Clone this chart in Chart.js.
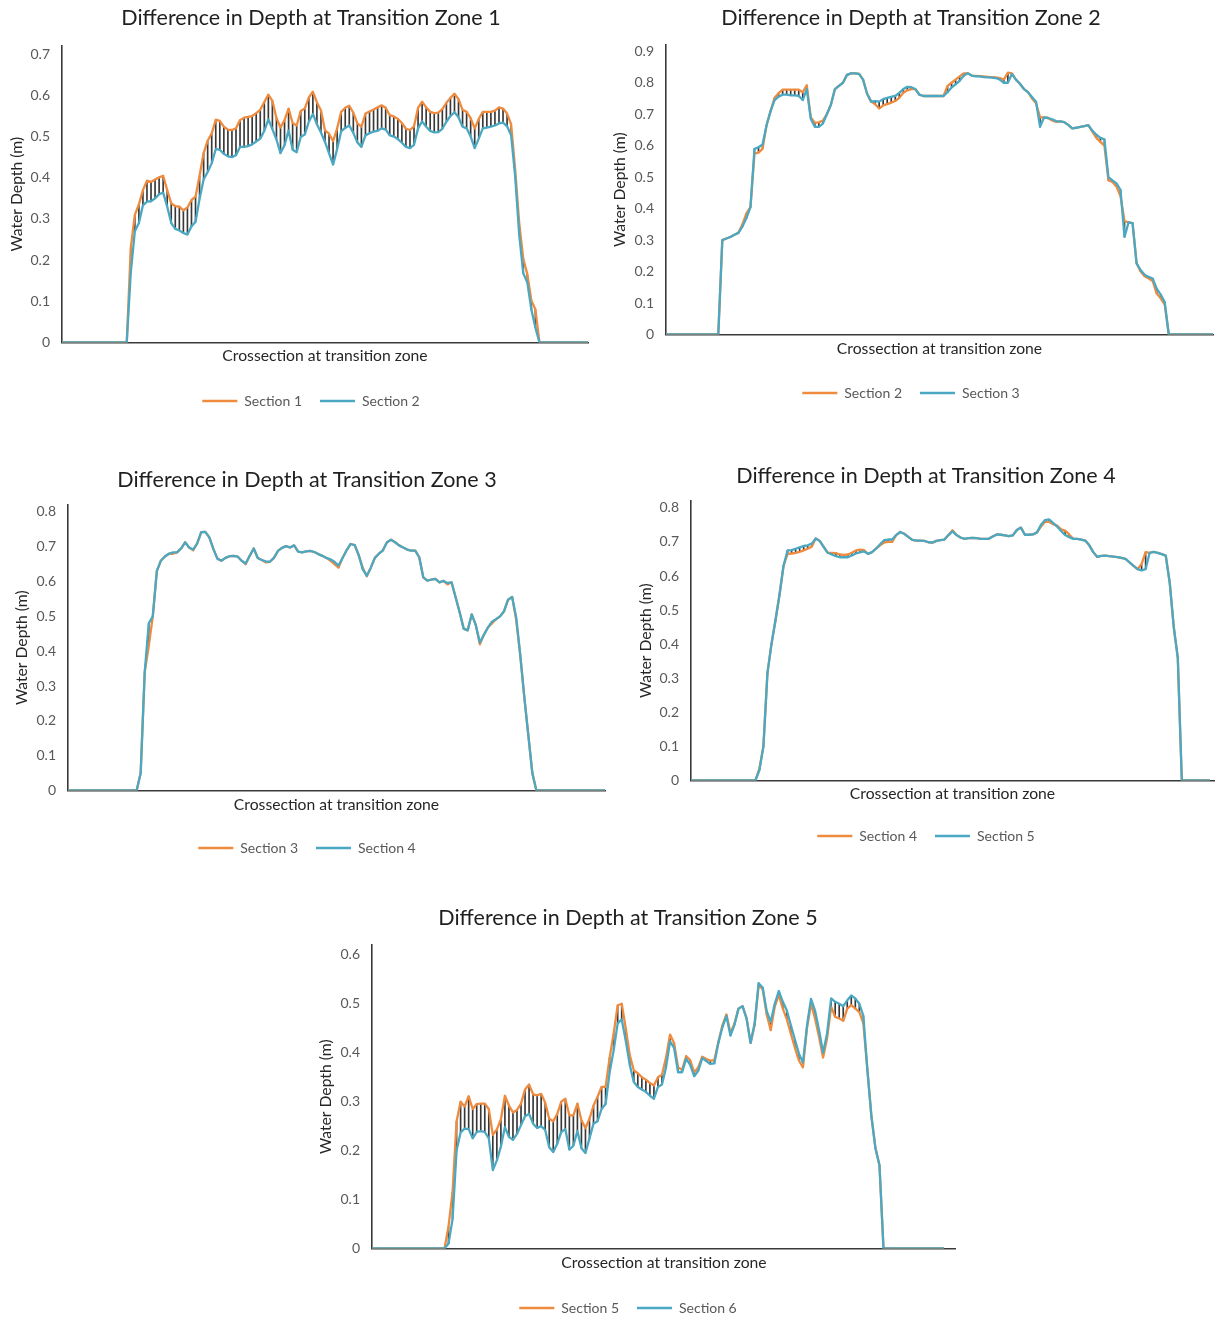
<!DOCTYPE html>
<html>
<head>
<meta charset="utf-8">
<script src="https://cdn.jsdelivr.net/npm/chart.js@4.4.1/dist/chart.umd.min.js"></script>
<style>
  html, body { margin: 0; padding: 0; background: #ffffff; }
  body { position: relative; width: 1226px; height: 1317px; overflow: hidden; }
  canvas { position: absolute; }
</style>
</head>
<body>
<script>
// ---------------- DATA ----------------
const chartTitles = [
  'Difference in Depth at Transition Zone 1',
  'Difference in Depth at Transition Zone 2',
  'Difference in Depth at Transition Zone 3',
  'Difference in Depth at Transition Zone 4',
  'Difference in Depth at Transition Zone 5'
];
const sectionNames = ['Section 1', 'Section 2', 'Section 3', 'Section 4', 'Section 5', 'Section 6'];
const yAxisTitle = 'Water Depth (m)';
const xAxisTitle = 'Crossection at transition zone';
const yAxisMax = [0.72, 0.92, 0.82, 0.82, 0.62];
const yTickStep = 0.1;

// Zone 1
const zone1Section1 = [0,0,0,0,0,0,0,0,0,0,0,0,0,0,0,0,0,
  0.23,0.31,0.335,0.37,0.393,0.39,0.396,0.401,0.405,0.37,0.338,0.331,0.33,0.321,0.328,0.346,0.354,0.405,0.46,0.49,
  0.508,0.541,0.538,0.524,0.517,0.516,0.52,0.54,0.546,0.548,0.55,0.557,0.565,0.584,0.602,0.587,0.545,0.522,0.54,0.568,
  0.533,0.527,0.562,0.568,0.595,0.609,0.583,0.564,0.515,0.507,0.489,0.52,0.56,0.57,0.575,0.558,0.532,0.524,0.556,0.561,
  0.566,0.571,0.576,0.57,0.552,0.549,0.543,0.533,0.519,0.516,0.525,0.57,0.585,0.571,0.56,0.557,0.558,0.567,0.582,0.594,
  0.604,0.591,0.565,0.56,0.545,0.52,0.543,0.56,0.56,0.56,0.563,0.571,0.568,0.556,0.53,0.42,0.29,0.203,0.166,0.102,0.08,
  0,0,0,0,0,0,0,0,0,0,0,0,0];
const zone1Section2 = [0,0,0,0,0,0,0,0,0,0,0,0,0,0,0,0,0,
  0.17,0.27,0.29,0.333,0.342,0.343,0.35,0.36,0.364,0.33,0.29,0.276,0.272,0.266,0.262,0.282,0.293,0.349,0.396,0.414,
  0.435,0.47,0.468,0.458,0.452,0.45,0.455,0.475,0.475,0.477,0.481,0.488,0.495,0.514,0.542,0.518,0.493,0.46,0.479,0.515,
  0.468,0.462,0.499,0.505,0.536,0.555,0.53,0.51,0.487,0.459,0.432,0.47,0.513,0.521,0.527,0.509,0.486,0.475,0.503,0.508,
  0.512,0.514,0.52,0.517,0.503,0.5,0.494,0.485,0.475,0.472,0.48,0.52,0.537,0.524,0.514,0.51,0.511,0.519,0.536,0.55,
  0.559,0.547,0.524,0.52,0.5,0.472,0.495,0.52,0.522,0.524,0.527,0.532,0.534,0.525,0.503,0.404,0.262,0.168,0.146,0.08,0.036,
  0,0,0,0,0,0,0,0,0,0,0,0,0];

// Zone 2
const zone2Section2 = [0,0,0,0,0,0,0,0,0,0,0,0,0,0,
  0.30,0.305,0.31,0.317,0.323,0.35,0.385,0.405,0.575,0.578,0.59,0.665,0.71,0.752,0.767,0.778,0.778,0.778,0.778,0.778,
  0.77,0.792,0.69,0.673,0.674,0.68,0.70,0.73,0.78,0.79,0.80,0.825,0.83,0.83,0.828,0.81,0.765,0.74,0.732,0.718,
  0.728,0.732,0.737,0.742,0.752,0.768,0.776,0.78,0.78,0.762,0.758,0.758,0.758,0.758,0.758,0.758,0.79,0.80,0.81,0.82,
  0.83,0.83,0.823,0.822,0.821,0.82,0.819,0.818,0.817,0.815,0.81,0.832,0.83,0.81,0.797,0.78,0.77,0.75,0.735,0.69,
  0.69,0.688,0.68,0.676,0.677,0.675,0.666,0.655,0.657,0.66,0.662,0.665,0.645,0.625,0.612,0.60,0.49,0.485,0.47,0.44,
  0.36,0.356,0.354,0.226,0.20,0.185,0.178,0.17,0.13,0.115,0.095,
  0,0,0,0,0,0,0,0,0,0,0,0];
const zone2Section3 = [0,0,0,0,0,0,0,0,0,0,0,0,0,0,
  0.30,0.305,0.31,0.317,0.323,0.343,0.37,0.405,0.59,0.595,0.604,0.665,0.71,0.745,0.756,0.762,0.762,0.76,0.76,0.758,
  0.745,0.78,0.685,0.66,0.66,0.67,0.70,0.73,0.78,0.79,0.80,0.825,0.83,0.83,0.828,0.81,0.765,0.74,0.742,0.74,
  0.748,0.752,0.755,0.758,0.768,0.78,0.787,0.786,0.78,0.762,0.758,0.758,0.758,0.758,0.758,0.758,0.77,0.785,0.795,0.806,
  0.822,0.83,0.823,0.82,0.82,0.818,0.817,0.816,0.815,0.81,0.80,0.80,0.828,0.81,0.797,0.78,0.77,0.755,0.74,0.66,
  0.69,0.688,0.684,0.678,0.677,0.675,0.666,0.655,0.657,0.66,0.662,0.665,0.648,0.635,0.625,0.62,0.50,0.49,0.48,0.46,
  0.31,0.356,0.354,0.226,0.205,0.19,0.183,0.178,0.146,0.127,0.103,
  0,0,0,0,0,0,0,0,0,0,0,0];

// Zone 3
const zone3Section3 = [0,0,0,0,0,0,0,0,0,0,0,0,0,0,0,0,0,0,
  0.05,0.34,0.415,0.50,0.63,0.66,0.672,0.68,0.68,0.684,0.695,0.713,0.698,0.69,0.71,0.742,0.743,0.727,0.694,0.666,
  0.66,0.668,0.673,0.674,0.672,0.66,0.65,0.674,0.695,0.668,0.662,0.655,0.657,0.668,0.688,0.697,0.702,0.698,0.704,0.686,
  0.684,0.687,0.688,0.685,0.679,0.674,0.668,0.66,0.65,0.64,0.668,0.69,0.708,0.705,0.676,0.64,0.615,0.64,0.668,0.68,
  0.69,0.713,0.72,0.713,0.704,0.698,0.692,0.689,0.689,0.67,0.612,0.603,0.606,0.608,0.598,0.602,0.592,0.598,0.555,0.512,
  0.465,0.46,0.506,0.475,0.42,0.447,0.468,0.48,0.492,0.50,0.515,0.548,0.556,0.49,0.39,0.27,0.16,0.05,
  0,0,0,0,0,0,0,0,0,0,0,0,0,0,0,0,0,0];
const zone3Section4 = [0,0,0,0,0,0,0,0,0,0,0,0,0,0,0,0,0,0,
  0.05,0.34,0.48,0.50,0.63,0.66,0.672,0.68,0.684,0.684,0.695,0.713,0.698,0.692,0.71,0.742,0.743,0.727,0.694,0.666,
  0.66,0.668,0.673,0.674,0.672,0.66,0.652,0.674,0.695,0.668,0.662,0.658,0.657,0.668,0.688,0.697,0.702,0.698,0.704,0.686,
  0.684,0.687,0.688,0.685,0.679,0.674,0.668,0.664,0.657,0.646,0.668,0.69,0.708,0.705,0.676,0.635,0.617,0.64,0.668,0.68,
  0.69,0.713,0.72,0.713,0.704,0.698,0.692,0.689,0.689,0.67,0.612,0.603,0.606,0.608,0.598,0.602,0.596,0.598,0.555,0.512,
  0.465,0.46,0.506,0.475,0.425,0.447,0.468,0.485,0.492,0.50,0.515,0.548,0.556,0.498,0.39,0.27,0.16,0.05,
  0,0,0,0,0,0,0,0,0,0,0,0,0,0,0,0,0,0];

// Zone 4
const zone4Section4 = [0,0,0,0,0,0,0,0,0,0,0,0,0,0,0,0,0,
  0.035,0.10,0.315,0.40,0.47,0.545,0.63,0.665,0.666,0.668,0.671,0.675,0.68,0.686,0.71,0.703,0.685,0.668,0.668,0.667,
  0.663,0.662,0.663,0.668,0.675,0.677,0.676,0.665,0.67,0.68,0.69,0.698,0.70,0.70,0.72,0.729,0.724,0.715,0.706,0.704,
  0.704,0.703,0.699,0.698,0.703,0.705,0.707,0.72,0.734,0.72,0.713,0.709,0.711,0.712,0.711,0.709,0.709,0.709,0.716,0.722,0.721,
  0.719,0.717,0.719,0.735,0.742,0.721,0.721,0.722,0.728,0.745,0.759,0.759,0.752,0.748,0.737,0.733,0.722,0.709,0.709,0.707,
  0.704,0.69,0.67,0.656,0.659,0.66,0.658,0.657,0.655,0.653,0.65,0.64,0.63,0.62,0.635,0.67,0.668,0.671,0.668,0.664,
  0.66,0.58,0.45,0.36,
  0,0,0,0,0,0,0,0];
const zone4Section5 = [0,0,0,0,0,0,0,0,0,0,0,0,0,0,0,0,0,
  0.03,0.10,0.315,0.40,0.47,0.545,0.63,0.675,0.676,0.68,0.684,0.688,0.69,0.695,0.71,0.703,0.685,0.668,0.663,0.658,
  0.655,0.655,0.655,0.66,0.666,0.669,0.672,0.665,0.67,0.68,0.693,0.705,0.707,0.707,0.72,0.729,0.724,0.715,0.706,0.704,
  0.704,0.703,0.699,0.698,0.703,0.705,0.707,0.72,0.731,0.72,0.713,0.709,0.711,0.712,0.711,0.709,0.709,0.709,0.716,0.722,0.721,
  0.719,0.717,0.719,0.735,0.742,0.721,0.721,0.722,0.728,0.75,0.764,0.766,0.756,0.745,0.732,0.72,0.714,0.709,0.709,0.707,
  0.704,0.69,0.67,0.656,0.659,0.66,0.658,0.657,0.655,0.653,0.65,0.64,0.63,0.62,0.616,0.62,0.668,0.671,0.668,0.664,
  0.66,0.58,0.45,0.36,
  0,0,0,0,0,0,0,0];

// Zone 5
const zone5Section5 = [0,0,0,0,0,0,0,0,0,0,0,0,0,0,0,0,0,0,0,
  0.045,0.115,0.26,0.30,0.29,0.311,0.285,0.295,0.296,0.296,0.285,0.232,0.243,0.264,0.312,0.292,0.278,0.283,0.296,0.325,
  0.335,0.315,0.313,0.316,0.298,0.265,0.26,0.275,0.30,0.306,0.272,0.272,0.296,0.262,0.246,0.265,0.292,0.31,0.33,0.33,
  0.39,0.439,0.497,0.50,0.45,0.395,0.364,0.358,0.35,0.345,0.338,0.333,0.35,0.355,0.39,0.437,0.42,0.37,0.365,0.393,
  0.385,0.36,0.37,0.392,0.387,0.384,0.385,0.422,0.456,0.478,0.44,0.46,0.49,0.495,0.47,0.42,0.456,0.538,0.53,0.478,
  0.446,0.494,0.518,0.49,0.468,0.439,0.41,0.384,0.37,0.45,0.50,0.47,0.432,0.39,0.43,0.494,0.473,0.47,0.465,0.49,
  0.497,0.49,0.483,0.46,0.365,0.27,0.205,0.17,
  0,0,0,0,0,0,0,0,0,0,0,0,0,0,0,0];
const zone5Section6 = [0,0,0,0,0,0,0,0,0,0,0,0,0,0,0,0,0,0,0,
  0.01,0.06,0.20,0.237,0.245,0.244,0.225,0.238,0.24,0.238,0.225,0.16,0.18,0.208,0.248,0.228,0.222,0.234,0.252,0.27,
  0.275,0.255,0.246,0.25,0.242,0.207,0.197,0.214,0.238,0.244,0.202,0.21,0.24,0.205,0.195,0.225,0.255,0.26,0.285,0.295,
  0.36,0.405,0.46,0.468,0.425,0.375,0.34,0.33,0.325,0.32,0.312,0.306,0.33,0.335,0.37,0.423,0.41,0.36,0.36,0.388,
  0.375,0.352,0.363,0.389,0.383,0.377,0.378,0.42,0.452,0.475,0.435,0.457,0.49,0.495,0.47,0.42,0.46,0.542,0.533,0.485,
  0.463,0.50,0.526,0.504,0.486,0.456,0.427,0.398,0.38,0.455,0.51,0.486,0.446,0.40,0.44,0.511,0.504,0.50,0.495,0.507,
  0.517,0.511,0.50,0.475,0.365,0.27,0.205,0.17,
  0,0,0,0,0,0,0,0,0,0,0,0,0,0,0,0];

const zoneSeries = [
  [zone1Section1, zone1Section2],
  [zone2Section2, zone2Section3],
  [zone3Section3, zone3Section4],
  [zone4Section4, zone4Section5],
  [zone5Section5, zone5Section6]
];
const zoneSectionNames = [
  [sectionNames[0], sectionNames[1]],
  [sectionNames[1], sectionNames[2]],
  [sectionNames[2], sectionNames[3]],
  [sectionNames[3], sectionNames[4]],
  [sectionNames[4], sectionNames[5]]
];

// ---------------- LAYOUT / STYLE ----------------
const layouts = [
  {L:0,   T:2,   W:622, H:416, yW:62, rW:34, tTop:3.1, tBot:15.1, yTitlePad:7.6,  xH:33.5, xTitleBot:11.1, extra:0},
  {L:604, T:2,   W:614, H:408, yW:62, rW:5,  tTop:3.1, tBot:14.1, yTitlePad:6.6,  xH:33.5, xTitleBot:10.1, extra:0},
  {L:6,   T:464, W:602, H:401, yW:62, rW:3,  tTop:3.1, tBot:12.1, yTitlePad:6.6,  xH:32.5, xTitleBot:9.1,  extra:0},
  {L:630, T:460, W:592, H:393, yW:61, rW:8,  tTop:3.1, tBot:12.1, yTitlePad:6.6,  xH:30.5, xTitleBot:8.1,  extra:1},
  {L:300, T:902, W:656, H:423, yW:72, rW:0,  tTop:3.1, tBot:14.1, yTitlePad:16.6, xH:34.5, xTitleBot:11.1, extra:3}
];
const COLOR_A = '#EE8B3F';
const COLOR_B = '#4AA8C3';
const HILO = '#383838';
const AXIS = '#3a3a3a';
const FONT = 'Lato, "Open Sans", "DejaVu Sans", sans-serif';

Chart.defaults.font.family = FONT;
Chart.defaults.animation = false;

function makeChart(k) {
  const lay = layouts[k];
  const [a, b] = zoneSeries[k];
  const names = zoneSectionNames[k];
  const cv = document.createElement('canvas');
  cv.width = lay.W; cv.height = lay.H;
  cv.style.left = lay.L + 'px'; cv.style.top = lay.T + 'px';
  cv.style.width = lay.W + 'px'; cv.style.height = lay.H + 'px';
  document.body.appendChild(cv);

  const labels = Array.from({length: a.length + lay.extra}, (_, i) => i + 1);
  const hilo = a.map((v, i) => [Math.min(v, b[i]), Math.max(v, b[i])]);

  const scales = {
    x: {
      type: 'category', offset: false,
      grid: {display: false, drawTicks: false, tickLength: 0},
      border: {display: true, color: AXIS, width: 1.6},
      ticks: {display: false},
      title: {display: true, text: xAxisTitle, color: '#262626',
              font: {size: 15.7, family: FONT}, padding: {top: 0, bottom: lay.xTitleBot}},
      afterFit: s => { s.height = lay.xH; }
    },
    y: {
      type: 'linear', position: 'left', min: 0, max: yAxisMax[k], bounds: 'data',
      grid: {display: false, drawTicks: false, tickLength: 0},
      border: {display: true, color: AXIS, width: 1.6},
      ticks: {stepSize: yTickStep, includeBounds: false, padding: 12, color: '#595959',
              font: {size: 14, family: FONT},
              callback: v => String(Math.round(v * 10) / 10)},
      afterBuildTicks: s => { s.ticks = s.ticks.filter(t => Math.abs(t.value * 10 - Math.round(t.value * 10)) < 1e-6 && t.value <= yAxisMax[k]); },
      title: {display: true, text: yAxisTitle, color: '#262626',
              font: {size: 15.7, family: FONT}, padding: {top: lay.yTitlePad, bottom: 0}},
      afterFit: s => { s.width = lay.yW; }
    }
  };
  if (lay.rW > 0) {
    scales.yR = {
      type: 'linear', position: 'right', display: true,
      grid: {display: false, drawTicks: false, tickLength: 0},
      border: {display: false},
      ticks: {display: false},
      afterFit: s => { s.width = lay.rW; }
    };
  }

  new Chart(cv, {
    type: 'line',
    data: {
      labels: labels,
      datasets: [
        {label: names[0], data: a, borderColor: COLOR_A, backgroundColor: COLOR_A,
         borderWidth: 2.3, pointRadius: 0, tension: 0, order: 1, borderJoinStyle: 'round'},
        {label: names[1], data: b, borderColor: COLOR_B, backgroundColor: COLOR_B,
         borderWidth: 2.3, pointRadius: 0, tension: 0, order: 0, borderJoinStyle: 'round'},
        {type: 'bar', label: 'High-Low', data: hilo, backgroundColor: HILO, borderWidth: 0,
         barThickness: 1, order: 2, grouped: false}
      ]
    },
    options: {
      responsive: false,
      devicePixelRatio: 1,
      animation: false,
      events: [],
      layout: {padding: {left: 0, right: 0, top: 0, bottom: 0}},
      scales: scales,
      plugins: {
        tooltip: {enabled: false},
        title: {display: true, text: chartTitles[k], color: '#1f1f1f',
                font: {size: 21.5, weight: 'normal', family: FONT},
                padding: {top: lay.tTop, bottom: lay.tBot}},
        legend: {
          display: true, position: 'bottom',
          labels: {
            usePointStyle: true, pointStyle: 'line', pointStyleWidth: 35,
            color: '#595959', font: {size: 14, family: FONT}, padding: 18,
            filter: item => item.datasetIndex < 2,
            sort: (p, q) => p.datasetIndex - q.datasetIndex
          }
        }
      }
    }
  });
}

for (let k = 0; k < 5; k++) makeChart(k);
</script>
</body>
</html>
